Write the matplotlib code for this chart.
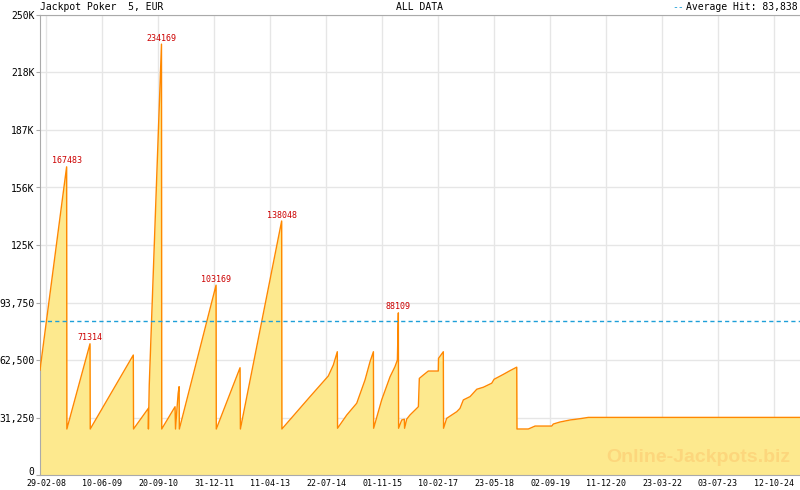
import numpy as np
import pandas as pd
import matplotlib
matplotlib.use("Agg")
import matplotlib.pyplot as plt
import matplotlib.dates as mdates
import matplotlib.transforms as mtransforms
from matplotlib.ticker import FixedLocator, FixedFormatter

# jackpot size over time
dates = [
    "2008-01-10", "2008-08-19", "2008-08-21", "2009-03-02", "2009-03-04",
    "2010-02-26", "2010-02-28", "2010-07-01", "2010-07-02", "2010-07-09",
    "2010-10-19", "2010-10-21", "2011-02-09", "2011-02-13", "2011-02-22",
    "2011-03-07", "2011-03-15", "2011-03-17", "2012-01-17", "2012-01-19",
    "2012-08-04", "2012-08-07", "2013-07-17", "2013-07-19", "2014-03-11",
    "2014-08-10", "2014-09-21", "2014-10-24", "2014-10-26", "2015-01-11",
    "2015-04-04", "2015-06-12", "2015-07-24", "2015-08-21", "2015-08-23",
    "2015-10-29", "2016-01-07", "2016-02-17", "2016-03-08", "2016-03-10",
    "2016-03-16", "2016-03-18", "2016-04-13", "2016-05-05", "2016-05-07",
    "2016-05-25", "2016-06-21", "2016-08-30", "2016-09-07", "2016-10-10",
    "2016-11-21", "2017-02-12", "2017-02-14", "2017-03-26", "2017-03-28",
    "2017-04-23", "2017-07-16", "2017-08-12", "2017-09-09", "2017-11-04",
    "2017-12-30", "2018-02-23", "2018-05-04", "2018-05-23", "2018-08-09",
    "2018-10-03", "2018-11-28", "2018-11-30", "2019-03-05", "2019-04-30",
    "2019-09-16", "2019-09-29", "2019-11-24", "2020-02-16", "2020-05-09",
    "2020-07-17", "2025-05-17",
]
values = [
    57000, 167483, 25000, 71314, 25000,
    65200, 25000, 36200, 25000, 48900,
    234169, 25000, 37100, 25000, 33500,
    44400, 48000, 25000, 103169, 25000,
    58300, 25000, 138048, 25000, 42600,
    53800, 59800, 67000, 25400, 32600,
    39000, 51600, 61600, 67000, 25400,
    40800, 53400, 58900, 62500, 68900,
    88109, 25400, 29900, 30300, 25400,
    30400, 32600, 37100, 52500, 54300,
    56500, 56500, 63400, 67000, 25400,
    30800, 34400, 36200, 40800, 42600,
    46600, 47700, 49900, 52000, 54700,
    56700, 58600, 25000, 25000, 26600,
    26600, 27700, 28800, 29900, 30600,
    31300, 31300,
]

peaks = [167483, 234169, 71314, 103169, 138048, 88109]
average_hit = 83838

xtick_dates = ["2008-02-29", "2009-06-10", "2010-09-20", "2011-12-31",
               "2013-04-11", "2014-07-22", "2015-11-01", "2017-02-10",
               "2018-05-23", "2019-09-02", "2020-12-11", "2022-03-23",
               "2023-07-03", "2024-10-12"]
xtick_labels = ["29-02-08", "10-06-09", "20-09-10", "31-12-11", "11-04-13",
                "22-07-14", "01-11-15", "10-02-17", "23-05-18", "02-09-19",
                "11-12-20", "23-03-22", "03-07-23", "12-10-24"]
ytick_vals = [0, 31250, 62500, 93750, 125000, 156250, 187500, 218750, 250000]
ytick_labels = ["0", "31,250", "62,500", "93,750", "125K", "156K", "187K",
                "218K", "250K"]

mono = "DejaVu Sans Mono"
line_col = "#ff8800"
fill_col = "#fde98e"
grid_col = "#e6e6e6"
spine_col = "#aaaaaa"
avg_col = "#1e9fd8"

x = pd.to_datetime(dates)
y = np.array(values)

fig = plt.figure(figsize=(8, 4.9), dpi=100)
ax = fig.add_axes([40 / 800, 15 / 490, 760 / 800, 460 / 490])

ax.fill_between(x, y, 0, color=fill_col, lw=0, zorder=2)
ax.plot(x, y, color=line_col, lw=1, zorder=3)
ax.axhline(average_hit, color=avg_col, lw=1, ls=(0, (3, 2.3)), zorder=4)

# labels over the peaks
for p in peaks:
    i = values.index(p)
    ax.annotate(str(p), (x[i], p), xytext=(0, 1), textcoords="offset points",
                ha="center", va="bottom", fontsize=6, family=mono,
                color="#cc0000", zorder=5)

ax.set_xlim(pd.Timestamp("2008-01-10"), pd.Timestamp("2025-05-17"))
ax.set_ylim(0, 250000)

xt = mdates.date2num(pd.to_datetime(xtick_dates))
ax.xaxis.set_major_locator(FixedLocator(xt))
ax.xaxis.set_major_formatter(FixedFormatter(xtick_labels))
step = np.diff(xt).mean() / 7
minor = np.concatenate([xt[0] + step * np.arange(1, 7) + k * 7 * step
                        for k in range(14)])
ax.xaxis.set_minor_locator(FixedLocator(minor))

ax.yaxis.set_major_locator(FixedLocator(ytick_vals))
ax.yaxis.set_major_formatter(FixedFormatter(ytick_labels))

ax.tick_params(axis="x", which="both", direction="in", length=5,
               color=spine_col, labelsize=6, pad=3)
ax.tick_params(axis="y", direction="out", length=3, color=spine_col,
               labelsize=7, pad=1)
for lab in ax.get_xticklabels() + ax.get_yticklabels():
    lab.set_family(mono)

# lift the "0" label off the date labels
zero = ax.get_yticklabels()[0]
zero.set_transform(zero.get_transform() +
                   mtransforms.ScaledTranslation(0, 3 / 72, fig.dpi_scale_trans))

ax.grid(True, which="major", color=grid_col, lw=1)
ax.set_axisbelow(True)
for s in ["left", "top", "bottom"]:
    ax.spines[s].set_color(spine_col)
ax.spines["right"].set_visible(False)

ax.text(0.866, 0.037, "Online-Jackpots.biz", transform=ax.transAxes,
        ha="center", va="center", fontsize=14, fontweight="bold",
        family="Liberation Sans", color="#fcd67c", zorder=2.5)

fig.text(40 / 800, 1 - 7 / 490, "Jackpot Poker  5, EUR", ha="left",
         va="center", fontsize=7, family=mono)
fig.text(420 / 800, 1 - 7 / 490, "ALL DATA", ha="center", va="center",
         fontsize=7, family=mono)
fig.text(798 / 800, 1 - 7 / 490, "Average Hit: 83,838", ha="right",
         va="center", fontsize=7, family=mono)
fig.text(684 / 800, 1 - 7 / 490, "--", ha="right", va="center",
         fontsize=7, family=mono, color=avg_col)

plt.savefig("out.png", dpi=100)
